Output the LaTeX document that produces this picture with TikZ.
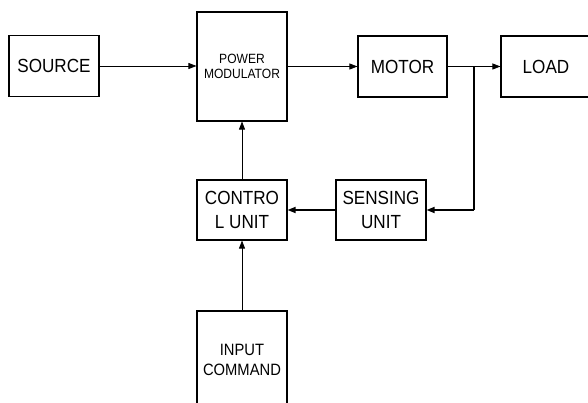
\documentclass[tikz,border=0pt]{standalone}
\usepackage{fontspec}
\newfontfamily\arialx[FakeStretch=0.9]{Liberation Sans}
\usetikzlibrary{arrows.meta}
\begin{document}
\begin{tikzpicture}[x=1pt,y=-1pt,
  blk/.style={draw=black, line width=1.1pt, inner sep=0pt, align=center, font=\arialx\fontsize{19}{24}\selectfont},
  conn/.style={line width=0.8pt, -{Triangle[length=8pt,width=6pt]}},
  thickconn/.style={line width=1.6pt, -{Triangle[length=8pt,width=6pt]}},
  thickline/.style={line width=1.6pt}]
\useasboundingbox (0,0) rectangle (588,403);
\clip (0,0) rectangle (588,403);
\node[blk, minimum width=90pt, minimum height=61pt] (source) at (54,66) {SOURCE};
\node[blk, minimum width=90pt, minimum height=109pt, font=\arialx\fontsize{13.4}{15}\selectfont] (pm) at (242,66.5) {POWER\\MODULATOR};
\node[blk, minimum width=89pt, minimum height=61pt] (motor) at (402.5,66.5) {MOTOR};
\node[blk, minimum width=90pt, minimum height=61pt] (load) at (546,66.5) {LOAD};
\node[blk, minimum width=90pt, minimum height=60pt] (control) at (242,210) {CONTRO\\L UNIT};
\node[blk, minimum width=90pt, minimum height=60pt] (sensing) at (381,210) {SENSING\\UNIT};
\node[blk, minimum width=90pt, minimum height=98pt, font=\arialx\fontsize{16.4}{20}\selectfont] (input) at (242,360) {INPUT\\COMMAND};
\coordinate (j) at (474,66.5);
\coordinate (c) at (474,210);
\draw[conn] (source.east) -- (source.east -| pm.west);
\draw[conn] (pm.east |- motor.west) -- (motor.west);
\draw[line width=0.8pt] (motor.east) -- (j);
\draw[conn] (j) -- (load.west);
\draw[thickline] (j) -- (c);
\draw[thickconn] (c) -- (sensing.east);
\draw[thickconn] (sensing.west) -- (control.east);
\draw[conn] (control.north) -- (pm.south);
\draw[conn] (input.north) -- (control.south);
\end{tikzpicture}
\end{document}
